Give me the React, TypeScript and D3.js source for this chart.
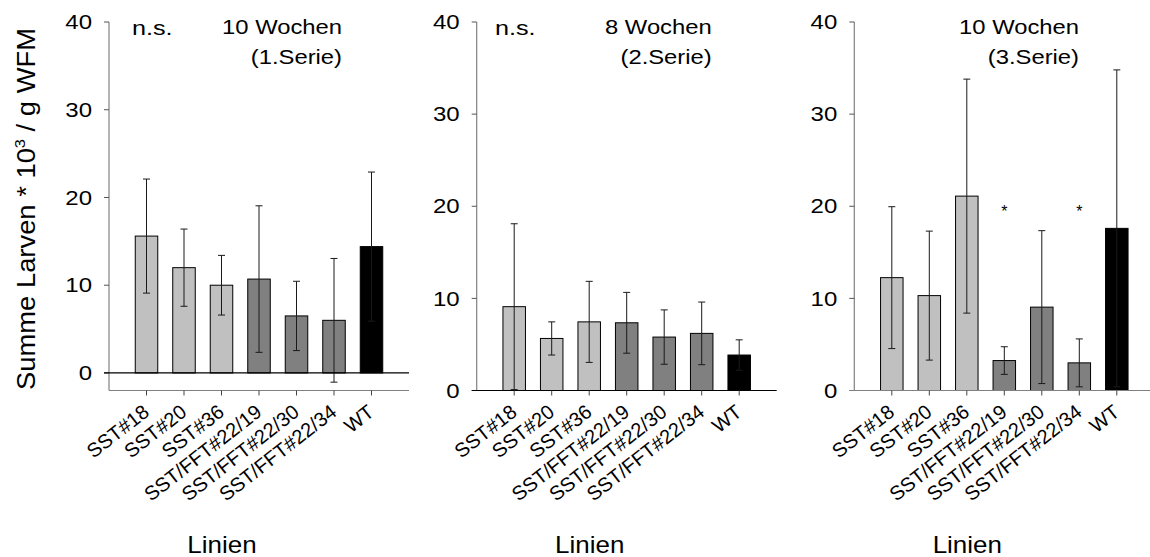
import React from "react";
import * as d3 from "d3";

const categories = ["SST#18", "SST#20", "SST#36", "SST/FFT#22/19", "SST/FFT#22/30", "SST/FFT#22/34", "WT"];
const groups = ["light", "light", "light", "dark", "dark", "dark", "wt"];
const series1Means = [15.6, 12.0, 10.0, 10.7, 6.5, 6.0, 14.4];
const series1Err = [6.5, 4.4, 3.4, 8.35, 3.95, 7.05, 8.5];
const series2Means = [9.1, 5.65, 7.45, 7.35, 5.8, 6.2, 3.85];
const series2Err = [9.0, 1.8, 4.4, 3.3, 2.95, 3.4, 1.65];
const series3Means = [12.25, 10.3, 21.1, 3.25, 9.05, 3.0, 17.6];
const series3Err = [7.7, 7.0, 12.7, 1.5, 8.3, 2.6, 17.2];
const yTicks = [0, 10, 20, 30, 40];
const titlesTop = ["10 Wochen", "8 Wochen", "10 Wochen"];
const titlesBottom = ["(1.Serie)", "(2.Serie)", "(3.Serie)"];
const nsMarks = ["n.s.", "n.s.", ""];
const star3 = ["", "", "", "*", "", "*", ""];
const yLabel = "Summe Larven * 10";
const xLabel = "Linien";

const FONT = "'Liberation Sans', Arial, Helvetica, sans-serif";
const fillFor: Record<string, string> = { light: "#c0c0c0", dark: "#808080", wt: "#000000" };

const panels = [
  { means: series1Means, errs: series1Err, axisX: 109, yMin: -2, titleEnd: 342, stars: null as string[] | null, ns: nsMarks[0], nsX: 132, axisColor: "#808080" },
  { means: series2Means, errs: series2Err, axisX: 476.7, yMin: 0, titleEnd: 711.7, stars: null, ns: nsMarks[1], nsX: 495, axisColor: "#000000" },
  { means: series3Means, errs: series3Err, axisX: 854.3, yMin: 0, titleEnd: 1079, stars: star3, ns: nsMarks[2], nsX: 0, axisColor: "#808080" },
];

const TOP = 22;
const BOTTOM = 390.5;
const PW = 300;

function SText({ x, y, sx = 1, anchor = "start", size, dy, children }: any) {
  return (
    <text transform={`translate(${x},${y}) scale(${sx},1)`} textAnchor={anchor} fontSize={size} dy={dy}
      fontFamily={FONT} fill="#000">{children}</text>
  );
}

function Panel({ p, idx }: { p: typeof panels[number]; idx: number }) {
  const x = d3.scalePoint<string>().domain(categories).range([p.axisX + PW / 8, p.axisX + (PW * 7) / 8]);
  const y = d3.scaleLinear().domain([p.yMin, 40]).range([BOTTOM, TOP]);
  const bw = x.step() * 0.6;
  const cap = 3.5;
  return (
    <g>
      {categories.map((c, i) => (
        <rect key={c} x={x(c)! - bw / 2} y={y(p.means[i])} width={bw} height={y(0) - y(p.means[i])}
          fill={fillFor[groups[i]]} stroke="#000" strokeWidth={1} />
      ))}
      {categories.map((c, i) => {
        const cx = x(c)!;
        const hi = y(p.means[i] + p.errs[i]);
        const lo = y(Math.max(p.yMin, p.means[i] - p.errs[i]));
        return (
          <g key={"e" + c} stroke="#1a1a1a" strokeWidth={1}>
            <line x1={cx} x2={cx} y1={hi} y2={lo} />
            <line x1={cx - cap} x2={cx + cap} y1={hi} y2={hi} />
            <line x1={cx - cap} x2={cx + cap} y1={lo} y2={lo} />
          </g>
        );
      })}
      <line x1={p.axisX} x2={p.axisX} y1={TOP} y2={BOTTOM} stroke="#808080" strokeWidth={1.2} />
      {yTicks.map((t) => (
        <g key={t}>
          <line x1={p.axisX - 5} x2={p.axisX} y1={y(t)} y2={y(t)} stroke="#555" strokeWidth={1} />
          <SText x={p.axisX - 17} y={y(t)} dy="0.36em" anchor="end" size={20} sx={1.2}>{t}</SText>
        </g>
      ))}
      <line x1={p.axisX - (p.yMin < 0 ? 0 : 5)} x2={p.axisX + PW} y1={BOTTOM} y2={BOTTOM} stroke={p.axisColor} strokeWidth={1.2} />
      {p.yMin < 0 && (
        <line x1={p.axisX - 5} x2={p.axisX + PW} y1={y(0)} y2={y(0)} stroke="#000" strokeWidth={1.2} />
      )}
      {categories.map((c) => (
        <line key={"t" + c} x1={x(c)} x2={x(c)} y1={BOTTOM} y2={BOTTOM + 5} stroke="#444" strokeWidth={1} />
      ))}
      {categories.map((c) => (
        <text key={"l" + c} transform={`translate(${x(c)! + 4},${BOTTOM + 24}) rotate(-38)`} textAnchor="end"
          fontSize={20} fontFamily={FONT} fill="#000">{c}</text>
      ))}
      {p.stars && categories.map((c, i) => p.stars![i] ? (
        <text key={"s" + c} x={x(c)} y={y(19.3) + 4} textAnchor="middle" fontSize={16} fontFamily={FONT}>{p.stars![i]}</text>
      ) : null)}
      <SText x={p.titleEnd} y={34} anchor="end" size={20} sx={1.19}>{titlesTop[idx]}</SText>
      <SText x={p.titleEnd} y={64} anchor="end" size={20} sx={1.19}>{titlesBottom[idx]}</SText>
      {p.ns && <SText x={p.nsX} y={35} size={21} sx={1.2}>{p.ns}</SText>}
      <SText x={p.axisX + 113} y={553} anchor="middle" size={24.5} sx={1.06}>{xLabel}</SText>
    </g>
  );
}

export default function App() {
  return (
    <svg width={1150} height={557} style={{ position: "absolute", left: 0, top: 0, background: "#fff" }}>
      <rect width={1150} height={557} fill="#fff" />
      {panels.map((p, i) => <Panel key={i} p={p} idx={i} />)}
      <text transform="translate(35,209) rotate(-90) scale(1.095,1)" textAnchor="middle" fontSize={25} fontFamily={FONT}>
        {yLabel}
        <tspan dy={-10} fontSize={15}>3</tspan>
        <tspan dy={10}> / g WFM</tspan>
      </text>
    </svg>
  );
}
